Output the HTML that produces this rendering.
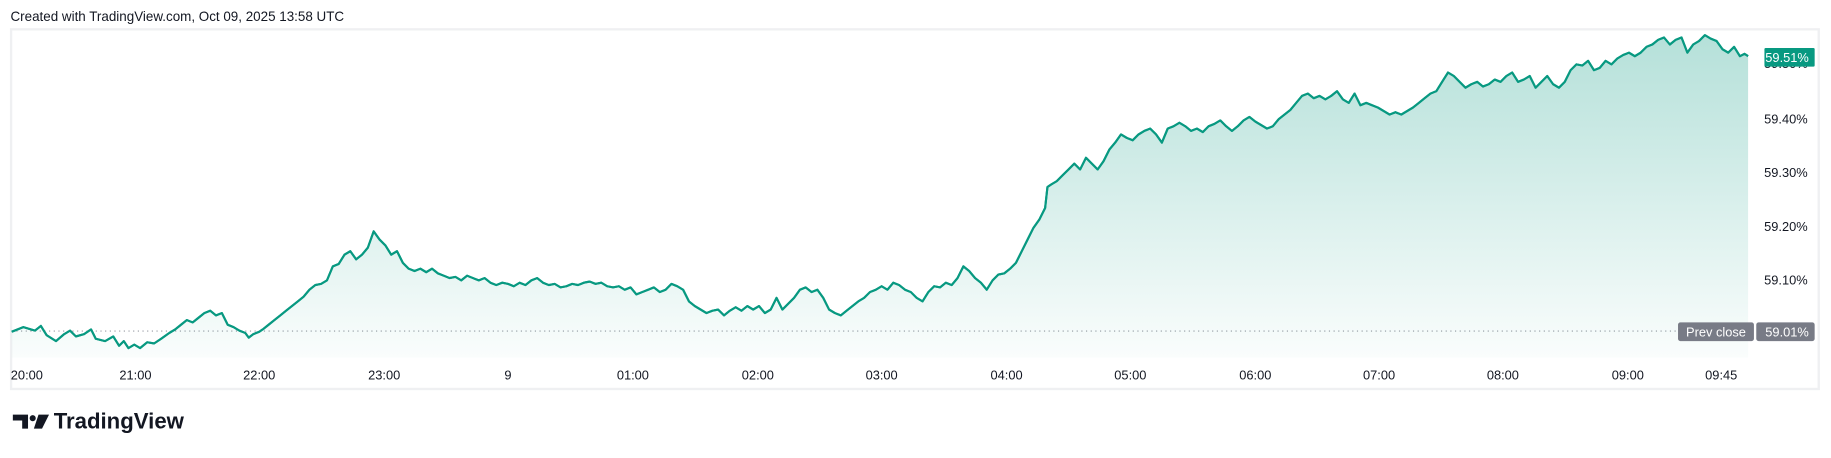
<!DOCTYPE html>
<html><head><meta charset="utf-8"><style>
html,body{margin:0;padding:0;background:#fff;width:1831px;height:458px;overflow:hidden}
svg{display:block}
text{font-family:"Liberation Sans",sans-serif}
</style></head><body>
<svg width="1831" height="458" viewBox="0 0 1568 392" xmlns="http://www.w3.org/2000/svg">
<defs><linearGradient id="g" x1="0" y1="0" x2="0" y2="1">
<stop offset="0" stop-color="#089981" stop-opacity="0.3"/>
<stop offset="1" stop-color="#089981" stop-opacity="0.02"/></linearGradient></defs>
<text x="9" y="18" font-size="11.5" fill="#131722">Created with TradingView.com, Oct 09, 2025 13:58 UTC</text>
<rect x="9.5" y="25" width="1548" height="308" fill="none" stroke="#eff0f2" stroke-width="2"/>
<line x1="10" y1="283.4" x2="1436" y2="283.4" stroke="#9598a1" stroke-width="1" stroke-dasharray="1,3"/>
<g id="ln">
<path id="p" d="M10,284 L20,280 30,283 35,279 40,287 48,292 55,286 60,283 65,288 72,286 78,282 82,290 90,292 97,288 102,296 106,292 110,298 115,295 120,298 126,293 132,294 138,290 145,285 150,282 155,278 160,274 165,276 170,272 175,268 180,266 185,270 190,268 195,278 200,280 205,283 210,285 213,289 217,286 222,284 225,282 230,278 235,274 240,270 245,266 250,262 255,258 260,254 265,248 270,244 275,243 280,240 285,228 290,226 295,218 300,215 305,222 310,218 315,212 320,198 325,205 330,210 335,218 340,215 345,225 350,230 355,232 360,230 365,233 370,230 375,234 380,236 385,238 390,237 395,240 400,236 405,238 410,240 415,238 420,242 425,244 430,242 435,243 440,245 445,242 450,244 455,240 460,238 465,242 470,244 475,243 480,246 485,245 490,243 495,244 500,242 505,241 510,243 515,242 520,245 525,246 530,245 535,248 540,246 545,252 550,250 555,248 560,246 565,250 570,248 575,243 580,245 585,248 590,258 595,262 600,265 605,268 610,266 615,265 620,270 625,266 630,263 635,266 640,262 645,265 650,262 655,268 660,265 665,255 670,265 675,260 680,255 685,248 690,246 695,250 700,248 705,255 710,265 715,268 720,270 725,266 730,262 735,258 740,255 745,250 750,248 755,245 760,248 765,242 770,244 775,248 780,250 785,255 790,258 795,250 800,245 805,246 810,242 815,244 820,238 825,228 830,232 835,238 840,242 845,248 850,240 855,235 860,234 865,230 870,225 875,215 880,205 885,195 890,188 895,178 897,160 900,158 905,155 910,150 915,145 920,140 925,145 930,135 935,140 940,145 945,138 950,128 955,122 960,115 965,118 970,120 975,115 980,112 985,110 990,115 995,122 1000,110 1005,108 1010,105 1015,108 1020,112 1025,110 1030,113 1035,108 1040,106 1045,103 1050,108 1055,112 1060,108 1065,103 1070,100 1075,104 1080,107 1085,110 1090,108 1095,102 1100,98 1105,94 1110,88 1115,82 1120,80 1125,84 1130,82 1135,85 1140,82 1145,78 1150,85 1155,88 1160,80 1165,90 1170,88 1175,90 1180,92 1185,95 1190,98 1195,96 1200,98 1205,95 1210,92 1215,88 1220,84 1225,80 1230,78 1235,70 1240,62 1245,65 1250,70 1255,75 1260,72 1265,70 1270,74 1275,72 1280,68 1285,70 1290,65 1295,62 1300,70 1305,68 1310,65 1315,75 1320,70 1325,65 1330,72 1335,75 1340,70 1345,60 1350,55 1355,56 1360,52 1365,60 1370,58 1375,52 1380,55 1385,50 1390,47 1395,45 1400,48 1405,45 1410,40 1415,38 1420,34 1425,32 1430,38 1435,34 1440,32 1445,45 1450,38 1455,35 1460,30 1465,33 1470,35 1475,42 1480,45 1485,40 1490,48 1494,46 1497,48" fill="none" stroke="#089981" stroke-width="1.8" stroke-linejoin="round"/>
</g>
<path d="M10,284 L20,280 30,283 35,279 40,287 48,292 55,286 60,283 65,288 72,286 78,282 82,290 90,292 97,288 102,296 106,292 110,298 115,295 120,298 126,293 132,294 138,290 145,285 150,282 155,278 160,274 165,276 170,272 175,268 180,266 185,270 190,268 195,278 200,280 205,283 210,285 213,289 217,286 222,284 225,282 230,278 235,274 240,270 245,266 250,262 255,258 260,254 265,248 270,244 275,243 280,240 285,228 290,226 295,218 300,215 305,222 310,218 315,212 320,198 325,205 330,210 335,218 340,215 345,225 350,230 355,232 360,230 365,233 370,230 375,234 380,236 385,238 390,237 395,240 400,236 405,238 410,240 415,238 420,242 425,244 430,242 435,243 440,245 445,242 450,244 455,240 460,238 465,242 470,244 475,243 480,246 485,245 490,243 495,244 500,242 505,241 510,243 515,242 520,245 525,246 530,245 535,248 540,246 545,252 550,250 555,248 560,246 565,250 570,248 575,243 580,245 585,248 590,258 595,262 600,265 605,268 610,266 615,265 620,270 625,266 630,263 635,266 640,262 645,265 650,262 655,268 660,265 665,255 670,265 675,260 680,255 685,248 690,246 695,250 700,248 705,255 710,265 715,268 720,270 725,266 730,262 735,258 740,255 745,250 750,248 755,245 760,248 765,242 770,244 775,248 780,250 785,255 790,258 795,250 800,245 805,246 810,242 815,244 820,238 825,228 830,232 835,238 840,242 845,248 850,240 855,235 860,234 865,230 870,225 875,215 880,205 885,195 890,188 895,178 897,160 900,158 905,155 910,150 915,145 920,140 925,145 930,135 935,140 940,145 945,138 950,128 955,122 960,115 965,118 970,120 975,115 980,112 985,110 990,115 995,122 1000,110 1005,108 1010,105 1015,108 1020,112 1025,110 1030,113 1035,108 1040,106 1045,103 1050,108 1055,112 1060,108 1065,103 1070,100 1075,104 1080,107 1085,110 1090,108 1095,102 1100,98 1105,94 1110,88 1115,82 1120,80 1125,84 1130,82 1135,85 1140,82 1145,78 1150,85 1155,88 1160,80 1165,90 1170,88 1175,90 1180,92 1185,95 1190,98 1195,96 1200,98 1205,95 1210,92 1215,88 1220,84 1225,80 1230,78 1235,70 1240,62 1245,65 1250,70 1255,75 1260,72 1265,70 1270,74 1275,72 1280,68 1285,70 1290,65 1295,62 1300,70 1305,68 1310,65 1315,75 1320,70 1325,65 1330,72 1335,75 1340,70 1345,60 1350,55 1355,56 1360,52 1365,60 1370,58 1375,52 1380,55 1385,50 1390,47 1395,45 1400,48 1405,45 1410,40 1415,38 1420,34 1425,32 1430,38 1435,34 1440,32 1445,45 1450,38 1455,35 1460,30 1465,33 1470,35 1475,42 1480,45 1485,40 1490,48 1494,46 1497,48 L1497,306 L10,306 Z" fill="url(#g)"/>
<use href="#p"/>
<g font-size="11" fill="#131722" text-anchor="end">
<text x="1548" y="58">59.50%</text>
<text x="1548" y="105.5">59.40%</text>
<text x="1548" y="151.5">59.30%</text>
<text x="1548" y="197.5">59.20%</text>
<text x="1548" y="243.5">59.10%</text>
</g>
<rect x="1511" y="41" width="43" height="16" rx="1" fill="#089981"/>
<text x="1549" y="53" font-size="11" fill="#fff" text-anchor="end">59.51%</text>
<rect x="1437" y="276" width="65" height="16" rx="2" fill="#787b86"/>
<text x="1469.5" y="288" font-size="11" fill="#fff" text-anchor="middle">Prev close</text>
<rect x="1504" y="276" width="50" height="16" rx="2" fill="#787b86"/>
<text x="1549" y="288" font-size="11" fill="#fff" text-anchor="end">59.01%</text>
<g font-size="11" fill="#131722" text-anchor="middle">
<text x="23" y="325">20:00</text>
<text x="116" y="325">21:00</text>
<text x="222" y="325">22:00</text>
<text x="329" y="325">23:00</text>
<text x="435" y="325">9</text>
<text x="542" y="325">01:00</text>
<text x="649" y="325">02:00</text>
<text x="755" y="325">03:00</text>
<text x="862" y="325">04:00</text>
<text x="968" y="325">05:00</text>
<text x="1075" y="325">06:00</text>
<text x="1181" y="325">07:00</text>
<text x="1287" y="325">08:00</text>
<text x="1394" y="325">09:00</text>
<text x="1474" y="325">09:45</text>
</g>
<g fill="#131722">
<path d="M11,355 h13 v12 h-5 v-7 h-8z"/>
<circle cx="28" cy="358" r="2.6"/>
<path d="M33,355 h9 l-6,12 h-7z"/>
</g>
<text x="46" y="367" font-size="19" font-weight="bold" fill="#131722">TradingView</text>
</svg>
</body></html>
